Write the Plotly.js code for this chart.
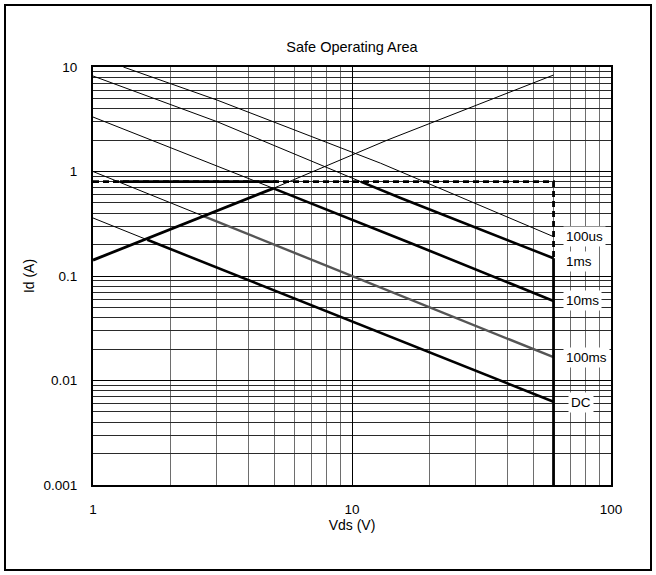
<!DOCTYPE html>
<html><head><meta charset="utf-8">
<script src="https://cdn.plot.ly/plotly-3.0.1.min.js"></script>
<style>
html,body{margin:0;padding:0;background:#fff;}
#wrap{position:relative;width:656px;height:575px;}
#chart{position:absolute;left:0;top:0;width:656px;height:575px;}
#frame{position:absolute;left:4px;top:4px;width:644px;height:563px;border:2px solid #000;pointer-events:none;}
</style></head>
<body><div id="wrap"><div id="chart"></div><div id="frame"></div></div>
<script>
// ---- data (Vds in V, Id in A) ----
const us100_x = [1.31, 3.01, 12.9, 60];
const us100_y = [10, 4.83, 1.20, 0.238];

const ms1_thin_x = [1, 3.01, 10.8];
const ms1_thin_y = [8.2, 3.0, 0.8];
const ms1_thick_x = [10.8, 15.4, 60];
const ms1_thick_y = [0.8, 0.558, 0.148];

const ms10_thin_x = [1, 4.97];
const ms10_thin_y = [3.32, 0.69];
const ms10_thick_x = [4.97, 16.8, 60];
const ms10_thick_y = [0.69, 0.207, 0.0577];

const ms100_thin_x = [1, 2.67];
const ms100_thin_y = [1.0, 0.374];
const ms100_thick_x = [2.67, 8.79, 60];
const ms100_thick_y = [0.374, 0.114, 0.0167];

const dc_thin_x = [1, 1.62];
const dc_thin_y = [0.359, 0.222];
const dc_thick_x = [1.62, 12.9, 60];
const dc_thick_y = [0.222, 0.0285, 0.00627];

const rds_thick_x = [1, 4.97];
const rds_thick_y = [0.142, 0.69];
const rds_thin_x = [4.97, 13.7, 60];
const rds_thin_y = [0.69, 2.0, 8.38];

const ilim_dash_x = [1, 60, 60];
const ilim_dash_y = [0.8, 0.8, 0.148];
const ilim_solid_x = [1.27, 5.15];
const ilim_solid_y = [0.8, 0.8];

const vmax_x = [60, 60];
const vmax_y = [0.148, 0.001];

const curveLabels = ["100us", "1ms", "10ms", "100ms", "DC"];
const labelY = [0.238, 0.1366, 0.0577, 0.0167, 0.0061];

const xTickVals = [1, 10, 100];
const xTickText = ["1", "10", "100"];
const yTickVals = [0.001, 0.01, 0.1, 1, 10];
const yTickText = ["0.001", "0.01", "0.1", "1", "10"];
const xMinor = [2,3,4,5,6,7,8,9,20,30,40,50,60,70,80,90];
const yMinor = [0.002,0.003,0.004,0.005,0.006,0.007,0.008,0.009,
                0.02,0.03,0.04,0.05,0.06,0.07,0.08,0.09,
                0.2,0.3,0.4,0.5,0.6,0.7,0.8,0.9,
                2,3,4,5,6,7,8,9];

// ---- traces ----
function ln(x, y, w, c, dash) {
  return {x: x, y: y, type: 'scatter', mode: 'lines', hoverinfo: 'skip',
          line: {width: w, color: c, dash: dash || 'solid'}, showlegend: false};
}
const traces = [
  ln(us100_x, us100_y, 1, '#000'),
  ln(ms1_thin_x, ms1_thin_y, 1, '#000'),
  ln(ms1_thick_x, ms1_thick_y, 2.6, '#000'),
  ln(ms10_thin_x, ms10_thin_y, 1, '#000'),
  ln(ms10_thick_x, ms10_thick_y, 2.6, '#000'),
  ln(ms100_thin_x, ms100_thin_y, 1, '#000'),
  ln(ms100_thick_x, ms100_thick_y, 2.4, '#555'),
  ln(dc_thin_x, dc_thin_y, 1, '#000'),
  ln(dc_thick_x, dc_thick_y, 2.6, '#000'),
  ln(rds_thin_x, rds_thin_y, 1, '#000'),
  ln(rds_thick_x, rds_thick_y, 2.8, '#000'),
  ln(ilim_dash_x, ilim_dash_y, 2.8, '#000', '6px,4px'),
  ln(ilim_solid_x, ilim_solid_y, 2.8, '#000'),
  ln(vmax_x, vmax_y, 2.8, '#000')
];

const ff = 'Liberation Sans, Arial, sans-serif';
const font = {family: ff, size: 13.5, color: '#000'};
const labelShift = [9, 9, 9, 9, 14];

const annotations = curveLabels.map((t, i) => ({
  x: Math.log10(60), y: Math.log10(labelY[i]), xref: 'x', yref: 'y',
  text: t, showarrow: false, xanchor: 'left', xshift: labelShift[i],
  bgcolor: '#fff', font: {family: ff, size: 13.5, color: '#000'},
  borderpad: 2
}));

const layout = {
  width: 656, height: 575,
  margin: {l: 93, r: 45, t: 67, b: 90, pad: 0},
  paper_bgcolor: '#fff', plot_bgcolor: '#fff',
  font: font,
  title: {text: 'Safe Operating Area', font: {family: ff, size: 14.5, color: '#000'},
          x: 0.5, xref: 'paper', y: 1 - 47/575, yanchor: 'middle'},
  xaxis: {
    type: 'log', range: [0, 2], tickmode: 'array', tickvals: xTickVals, ticktext: xTickText,
    showgrid: true, gridcolor: '#000', gridwidth: 1, ticks: '', ticklabelstandoff: 11,
    showline: true, linecolor: '#000', linewidth: 2, mirror: true, zeroline: false,
    tickfont: {family: ff, size: 13.5, color: '#000'},
    minor: {tickmode: 'array', tickvals: xMinor, showgrid: true, gridcolor: '#6e6e6e', gridwidth: 1, ticks: ''},
    title: {text: 'Vds (V)', font: {family: ff, size: 14, color: '#000'}, standoff: 4},
    fixedrange: true
  },
  yaxis: {
    type: 'log', range: [-3, 1], tickmode: 'array', tickvals: yTickVals, ticktext: yTickText,
    showgrid: true, gridcolor: '#000', gridwidth: 1, ticks: '', ticklabelstandoff: 11,
    showline: true, linecolor: '#000', linewidth: 2, mirror: true, zeroline: false,
    tickfont: {family: ff, size: 13.5, color: '#000'},
    minor: {tickmode: 'array', tickvals: yMinor, showgrid: true, gridcolor: '#2a2a2a', gridwidth: 1, ticks: ''},
    title: {text: 'Id (A)', font: {family: ff, size: 14, color: '#000'}, standoff: 6},
    fixedrange: true
  },
  annotations: annotations,
  showlegend: false
};

Plotly.newPlot('chart', traces, layout, {staticPlot: true, displayModeBar: false});
</script></body></html>
